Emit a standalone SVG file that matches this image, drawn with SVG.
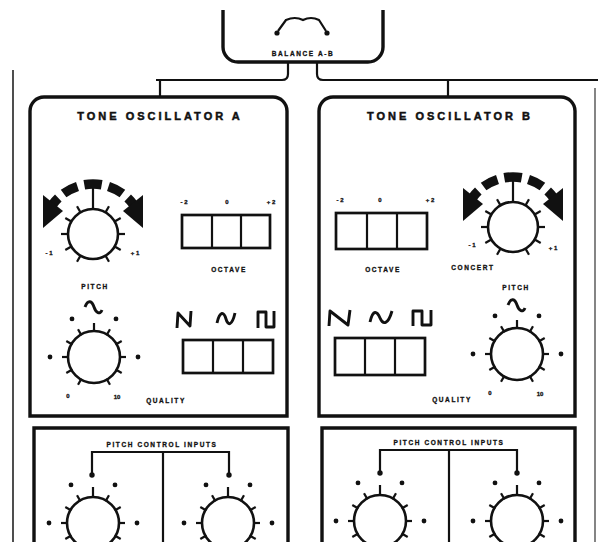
<svg xmlns="http://www.w3.org/2000/svg" xmlns:xlink="http://www.w3.org/1999/xlink" width="598" height="542" viewBox="0 0 598 542">
<style>
.box{fill:none;stroke:#111;stroke-width:3.4}
.ln{fill:none;stroke:#111;stroke-width:2.2}
.knob{fill:#fff;stroke:#111;stroke-width:2.6}
.tick{stroke:#111;stroke-width:2.2}
.seg{fill:none;stroke:#111;stroke-width:9.5}
.sw{fill:#fff;stroke:#111;stroke-width:2.7}
.glyph{fill:none;stroke:#111;stroke-width:2.9;stroke-linejoin:round}
.dot{fill:#111}
.title{font-family:"Liberation Sans",Arial,sans-serif;font-weight:bold;font-size:11px;letter-spacing:3px;fill:#111;stroke:#111;stroke-width:0.5;text-anchor:middle}
.lab{font-family:"Liberation Sans",Arial,sans-serif;font-weight:bold;font-size:6.5px;letter-spacing:1.6px;fill:#111;stroke:#111;stroke-width:0.3;text-anchor:middle}
.tiny{font-family:"Liberation Sans",Arial,sans-serif;font-weight:bold;font-size:6px;fill:#111;stroke:#111;stroke-width:0.3;text-anchor:middle}
</style>
<defs>
<g id="ticks11" class="tick">
<line x1="0" y1="-25" x2="0" y2="-32" transform="rotate(-150)"/>
<line x1="0" y1="-25" x2="0" y2="-32" transform="rotate(-120)"/>
<line x1="0" y1="-25" x2="0" y2="-32" transform="rotate(-90)"/>
<line x1="0" y1="-25" x2="0" y2="-32" transform="rotate(-60)"/>
<line x1="0" y1="-25" x2="0" y2="-32" transform="rotate(-30)"/>
<line x1="0" y1="-25" x2="0" y2="-32" transform="rotate(30)"/>
<line x1="0" y1="-25" x2="0" y2="-32" transform="rotate(60)"/>
<line x1="0" y1="-25" x2="0" y2="-32" transform="rotate(90)"/>
<line x1="0" y1="-25" x2="0" y2="-32" transform="rotate(120)"/>
<line x1="0" y1="-25" x2="0" y2="-32" transform="rotate(150)"/>
</g>
<g id="dots4" class="dot">
<circle cx="-22" cy="-38.1" r="2.4"/>
<circle cx="22" cy="-38.1" r="2.4"/>
<circle cx="-44" cy="0" r="2.4"/>
<circle cx="44" cy="0" r="2.4"/>
</g>
<g id="pitchArc">
<path class="seg" d="M-8.7,-49.2 A50,50 0 0 1 8.7,-49.2"/>
<path class="seg" d="M15.5,-47.6 A50,50 0 0 1 29.4,-40.5"/>
<path class="seg" d="M-15.5,-47.6 A50,50 0 0 0 -29.4,-40.5"/>
<path class="seg" d="M34.7,-36 A50,50 0 0 1 40.5,-29.4"/>
<path class="seg" d="M-34.7,-36 A50,50 0 0 0 -40.5,-29.4"/>
<polygon class="dot" points="30,-23 50,-39 50,-6"/>
<polygon class="dot" points="-30,-23 -50,-39 -50,-6"/>
</g>
</defs>
<rect width="598" height="542" fill="#fff"/>

<g id="connectors">
<path class="ln" d="M288,62 L288,74 Q288,80 282,80 L156,80"/>
<path class="ln" d="M160,80 L160,97"/>
<path class="ln" d="M317,62 L317,74 Q317,80 323,80 L598,80"/>
<path class="ln" d="M448,80 L448,97"/>
<line x1="13" y1="70" x2="13" y2="542" stroke="#222" stroke-width="1.6"/>
<line x1="595" y1="88" x2="595" y2="542" stroke="#666" stroke-width="1.6"/>
</g>

<g id="balance">
<path class="box" d="M223,10 L223,47 A15,15 0 0 0 238,62 L368,62 A15,15 0 0 0 383,47 L383,10"/>
<path class="ln" d="M278,31 L286,20 Q295,16 303,20 Q311,16 319,20 L326,31"/>
<circle class="dot" cx="277" cy="33" r="2.6"/>
<circle class="dot" cx="327" cy="33" r="2.6"/>
<text class="lab" x="303" y="56">BALANCE A-B</text>
</g>

<g id="osc-a">
<path class="box" d="M30,416 L30,111 A14,14 0 0 1 44,97 L273,97 A14,14 0 0 1 287,111 L287,416 Z"/>
<text class="title" x="160" y="120">TONE OSCILLATOR A</text>
</g>

<g id="pitch-a" transform="translate(93,234)">
<circle class="knob" r="25"/>
<use xlink:href="#ticks11"/>
<line class="tick" x1="0" y1="-25" x2="0" y2="-46"/>
<use xlink:href="#pitchArc"/>
<text class="tiny" x="-44" y="21">- 1</text>
<text class="tiny" x="42" y="21">+ 1</text>
<text class="lab" x="2" y="55">PITCH</text>
</g>

<g id="octave-a">
<text class="tiny" x="184" y="204">- 2</text>
<text class="tiny" x="227" y="204">0</text>
<text class="tiny" x="271" y="204">+ 2</text>
<rect class="sw" x="182" y="215" width="88" height="33"/>
<line class="tick" x1="212" y1="215" x2="212" y2="248" stroke-width="2.7"/>
<line class="tick" x1="241" y1="215" x2="241" y2="248" stroke-width="2.7"/>
<text class="lab" x="229" y="272">OCTAVE</text>
</g>

<g id="wave-a">
<path class="glyph" d="M177,328 L178,313 L190,326 L191,311"/>
<path class="glyph" d="M217,323 C220,310 224,312 226,319 C228,326 232,326 235,313"/>
<path class="glyph" d="M258,328 L258,312 L266,312 L266,327 L274,327 L274,311"/>
<rect class="sw" x="183" y="340" width="90" height="33"/>
<line class="tick" x1="213" y1="340" x2="213" y2="373" stroke-width="2.7"/>
<line class="tick" x1="243" y1="340" x2="243" y2="373" stroke-width="2.7"/>
</g>

<g id="quality-a" transform="translate(94,357)">
<circle class="knob" r="26"/>
<use xlink:href="#ticks11"/>
<line class="tick" x1="0" y1="-26" x2="0" y2="-34"/>
<use xlink:href="#dots4"/>
<path class="glyph" stroke-width="2.2" d="M-9,-50 C-6,-58 -2,-56 0,-50 C2,-44 6,-42 8,-47"/>
<text class="tiny" x="-26" y="41">0</text>
<text class="tiny" x="23" y="42">10</text>
<text class="lab" x="72" y="46">QUALITY</text>
</g>

<g id="pci-a">
<path class="box" d="M34,542 L34,428 L288,428 L288,542"/>
<text class="lab" x="162" y="447" letter-spacing="2.2">PITCH CONTROL INPUTS</text>
<path class="ln" d="M92,474 L92,452 L229,452 L229,474"/>
<line class="ln" x1="163" y1="452" x2="163" y2="542"/>
<circle class="dot" cx="92" cy="475" r="2.7"/>
<circle class="dot" cx="229" cy="475" r="2.7"/>
</g>
<g id="pci-a-knob1" transform="translate(93,523)">
<circle class="knob" r="26"/>
<use xlink:href="#ticks11"/>
<line class="tick" x1="0" y1="-26" x2="0" y2="-36"/>
<use xlink:href="#dots4"/>
</g>
<g id="pci-a-knob2" transform="translate(228,523)">
<circle class="knob" r="26"/>
<use xlink:href="#ticks11"/>
<line class="tick" x1="0" y1="-26" x2="0" y2="-36"/>
<use xlink:href="#dots4"/>
</g>

<g id="osc-b">
<path class="box" d="M319,416 L319,111 A14,14 0 0 1 333,97 L561,97 A14,14 0 0 1 575,111 L575,416 Z"/>
<text class="title" x="450" y="120">TONE OSCILLATOR B</text>
</g>

<g id="octave-b">
<text class="tiny" x="340" y="202">- 2</text>
<text class="tiny" x="380" y="202">0</text>
<text class="tiny" x="430" y="202">+ 2</text>
<rect class="sw" x="336" y="213" width="91" height="36"/>
<line class="tick" x1="367" y1="213" x2="367" y2="249" stroke-width="2.7"/>
<line class="tick" x1="397" y1="213" x2="397" y2="249" stroke-width="2.7"/>
<text class="lab" x="383" y="272">OCTAVE</text>
</g>

<g id="pitch-b" transform="translate(513,227)">
<circle class="knob" r="25"/>
<use xlink:href="#ticks11"/>
<line class="tick" x1="0" y1="-25" x2="0" y2="-46"/>
<use xlink:href="#pitchArc"/>
<text class="tiny" x="-41" y="20">- 1</text>
<text class="tiny" x="40" y="23">+ 1</text>
<text class="lab" x="-40" y="43">CONCERT</text>
<text class="lab" x="3" y="63">PITCH</text>
</g>

<g id="wave-b">
<path class="glyph" d="M329,326 L330,311 L348,325 L350,310"/>
<path class="glyph" d="M370,322 C373,309 377,311 380,318 C383,325 388,325 392,311"/>
<path class="glyph" d="M413,326 L413,311 L422,311 L422,325 L431,325 L431,310"/>
<rect class="sw" x="335" y="338" width="90" height="37"/>
<line class="tick" x1="365" y1="338" x2="365" y2="375" stroke-width="2.7"/>
<line class="tick" x1="395" y1="338" x2="395" y2="375" stroke-width="2.7"/>
</g>

<g id="quality-b" transform="translate(517,354)">
<circle class="knob" r="26"/>
<use xlink:href="#ticks11"/>
<line class="tick" x1="0" y1="-26" x2="0" y2="-34"/>
<use xlink:href="#dots4"/>
<path class="glyph" stroke-width="2.2" d="M-9,-49 C-6,-57 -2,-55 0,-49 C2,-43 6,-41 8,-46"/>
<text class="tiny" x="-27" y="41">0</text>
<text class="tiny" x="23" y="42">10</text>
<text class="lab" x="-65" y="48">QUALITY</text>
</g>

<g id="pci-b">
<path class="box" d="M322,542 L322,428 L575,428 L575,542"/>
<text class="lab" x="449" y="445" letter-spacing="2.2">PITCH CONTROL INPUTS</text>
<path class="ln" d="M380,472 L380,450 L517,450 L517,472"/>
<line class="ln" x1="449" y1="450" x2="449" y2="542"/>
<circle class="dot" cx="380" cy="473" r="2.7"/>
<circle class="dot" cx="517" cy="473" r="2.7"/>
</g>
<g id="pci-b-knob1" transform="translate(380,521)">
<circle class="knob" r="26"/>
<use xlink:href="#ticks11"/>
<line class="tick" x1="0" y1="-26" x2="0" y2="-36"/>
<use xlink:href="#dots4"/>
</g>
<g id="pci-b-knob2" transform="translate(517,521)">
<circle class="knob" r="26"/>
<use xlink:href="#ticks11"/>
<line class="tick" x1="0" y1="-26" x2="0" y2="-36"/>
<use xlink:href="#dots4"/>
</g>
</svg>
